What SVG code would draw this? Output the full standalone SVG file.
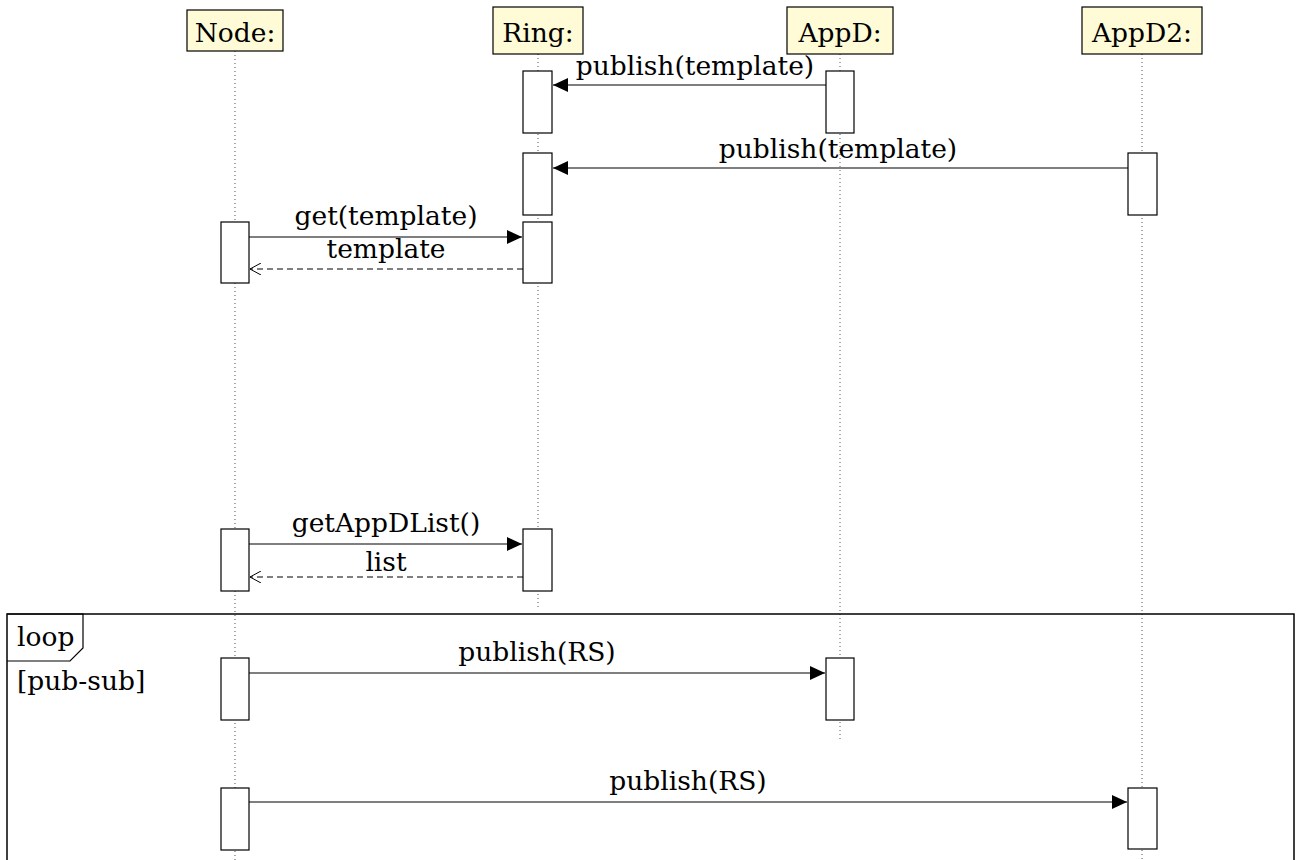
<svg xmlns="http://www.w3.org/2000/svg" width="1299" height="860" viewBox="0 0 1299 860">
<style>
text{font-family:'DejaVu Serif','Liberation Serif',serif;font-size:26.5px;fill:#000}
.m{text-anchor:middle}
.hdr{fill:#fffbd6;stroke:#000;stroke-width:1.2}
.act{fill:#fff;stroke:#000;stroke-width:1.2}
.life{stroke:#555;stroke-width:1;stroke-dasharray:1 3;fill:none}
.msg{stroke:#000;stroke-width:1.2;fill:none}
.ret{stroke:#000;stroke-width:1.2;fill:none;stroke-dasharray:6 4}
</style>
<defs>
<marker id="fa" markerWidth="16" markerHeight="14" refX="15" refY="7" orient="auto" markerUnits="userSpaceOnUse">
<path d="M0,0 L15,7 L0,14 Z" fill="#000"/>
</marker>
<marker id="oa" markerWidth="12" markerHeight="12" refX="11" refY="6" orient="auto" markerUnits="userSpaceOnUse">
<path d="M0,0 L11,6 L0,12" fill="none" stroke="#000" stroke-width="1"/>
</marker>
</defs>
<rect width="1299" height="860" fill="#fff"/>
<g id="lifelines">
<line class="life" x1="235" y1="51" x2="235" y2="860"/>
<line class="life" x1="538" y1="54" x2="538" y2="607"/>
<line class="life" x1="840" y1="54" x2="840" y2="740"/>
<line class="life" x1="1142" y1="54" x2="1142" y2="860"/>
</g>
<g id="loop">
<rect x="7" y="614" width="1287" height="280" fill="none" stroke="#000" stroke-width="1.5"/>
<path d="M7,614 H83 V648 L70,661 H7" fill="none" stroke="#000" stroke-width="1.2"/>
<text x="17" y="646">loop</text>
<text x="17" y="690">[pub-sub]</text>
</g>
<g id="node-Node"><rect class="hdr" x="187" y="10" width="96" height="41"/><text class="m" x="235" y="42">Node:</text></g>
<g id="node-Ring"><rect class="hdr" x="493" y="7" width="90" height="47"/><text class="m" x="538" y="42">Ring:</text></g>
<g id="node-AppD"><rect class="hdr" x="787" y="7" width="106" height="47"/><text class="m" x="840" y="42">AppD:</text></g>
<g id="node-AppD2"><rect class="hdr" x="1082" y="7" width="120" height="47"/><text class="m" x="1142" y="42">AppD2:</text></g>
<g id="activations">
<rect class="act" x="523" y="71" width="29" height="62"/>
<rect class="act" x="826" y="71" width="28" height="62"/>
<rect class="act" x="523" y="153" width="29" height="62"/>
<rect class="act" x="1128" y="153" width="29" height="62"/>
<rect class="act" x="221" y="222" width="28" height="61"/>
<rect class="act" x="523" y="222" width="29" height="61"/>
<rect class="act" x="221" y="529" width="28" height="62"/>
<rect class="act" x="523" y="529" width="29" height="62"/>
<rect class="act" x="221" y="658" width="28" height="62"/>
<rect class="act" x="826" y="658" width="28" height="62"/>
<rect class="act" x="221" y="788" width="28" height="62"/>
<rect class="act" x="1128" y="788" width="29" height="61"/>
</g>
<g id="connectors">
<line class="msg" x1="826" y1="85" x2="553" y2="85" marker-end="url(#fa)"/>
<text class="m" x="695" y="75">publish(template)</text>
<line class="msg" x1="1128" y1="168" x2="553" y2="168" marker-end="url(#fa)"/>
<text class="m" x="838" y="158">publish(template)</text>
<line class="msg" x1="249" y1="237" x2="522" y2="237" marker-end="url(#fa)"/>
<text class="m" x="386" y="225">get(template)</text>
<line class="ret" x1="523" y1="269" x2="250" y2="269" marker-end="url(#oa)"/>
<text class="m" x="386" y="258">template</text>
<line class="msg" x1="249" y1="544" x2="522" y2="544" marker-end="url(#fa)"/>
<text class="m" x="386" y="532">getAppDList()</text>
<line class="ret" x1="523" y1="577" x2="250" y2="577" marker-end="url(#oa)"/>
<text class="m" x="386" y="571">list</text>
<line class="msg" x1="249" y1="673" x2="825" y2="673" marker-end="url(#fa)"/>
<text class="m" x="537" y="661">publish(RS)</text>
<line class="msg" x1="249" y1="802" x2="1127" y2="802" marker-end="url(#fa)"/>
<text class="m" x="688" y="790">publish(RS)</text>
</g>
</svg>
